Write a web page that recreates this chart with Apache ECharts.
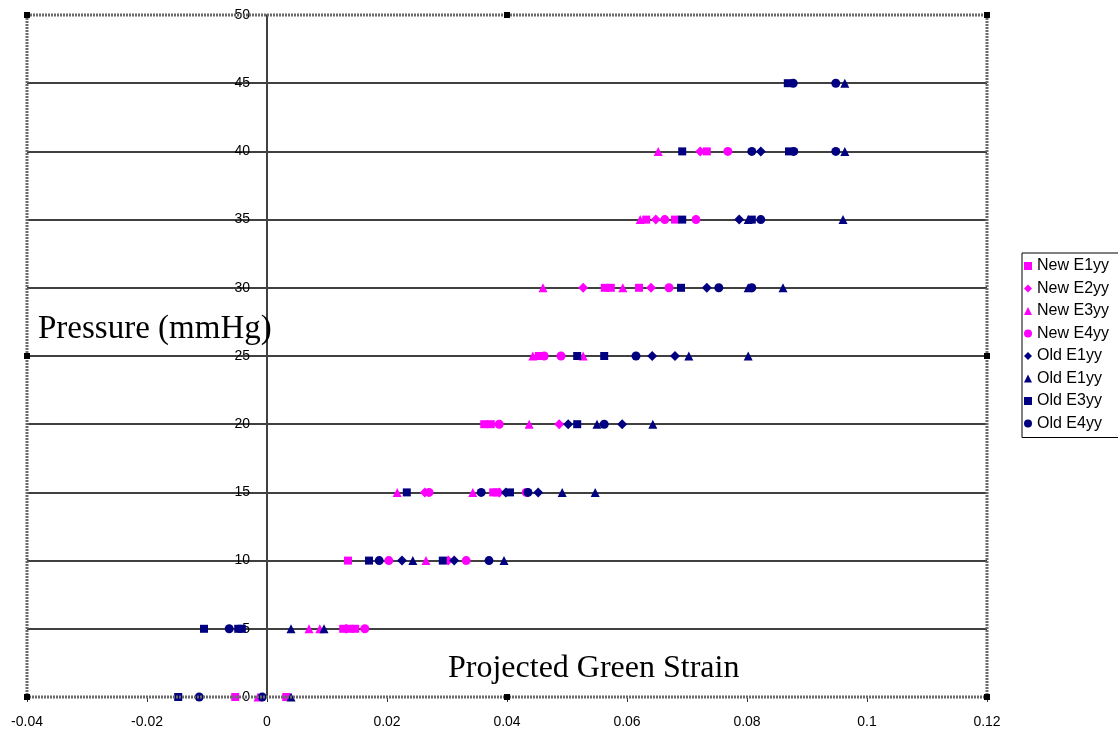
<!DOCTYPE html>
<html>
<head>
<meta charset="utf-8">
<script src="https://cdn.jsdelivr.net/npm/echarts@6/dist/echarts.min.js"></script>
<style>
  html, body { margin: 0; padding: 0; background: #fff; }
  #chart { width: 1118px; height: 736px; }
</style>
</head>
<body>
<div id="chart"></div>
<script>
  // [strain, pressure] pairs
  const newE1yy = [[-0.0053, 0], [0.0032, 0], [0.0127, 5], [0.0138, 5], [0.0147, 5], [0.0135, 10],
    [0.0377, 15], [0.0383, 15], [0.0362, 20], [0.0373, 20], [0.0453, 25],
    [0.0563, 30], [0.0573, 30], [0.0620, 30], [0.0632, 35], [0.0680, 35], [0.0733, 40]]
  const newE2yy = [[0.0132, 5], [0.0302, 10], [0.0263, 15], [0.0387, 15], [0.0487, 20],
    [0.0527, 30], [0.0640, 30], [0.0648, 35], [0.0722, 40]]
  const newE3yy = [[-0.0015, 0], [0.0070, 5], [0.0088, 5], [0.0265, 10], [0.0217, 15], [0.0343, 15],
    [0.0437, 20], [0.0443, 25], [0.0527, 25], [0.0460, 30], [0.0593, 30], [0.0622, 35], [0.0652, 40]]
  const newE4yy = [[0.0163, 5], [0.0203, 10], [0.0332, 10], [0.0270, 15], [0.0432, 15], [0.0387, 20],
    [0.0462, 25], [0.0490, 25], [0.0670, 30], [0.0663, 35], [0.0715, 35], [0.0768, 40]]
  const oldE1yy = [[0.0225, 10], [0.0312, 10], [0.0398, 15], [0.0452, 15], [0.0502, 20], [0.0592, 20],
    [0.0642, 25], [0.0680, 25], [0.0733, 30], [0.0787, 35], [0.0823, 40]]
  const oldE1yyB = [[0.0040, 0], [0.0040, 5], [0.0095, 5], [0.0243, 10], [0.0395, 10], [0.0492, 15],
    [0.0547, 15], [0.0550, 20], [0.0643, 20], [0.0703, 25], [0.0802, 25], [0.0802, 30], [0.0860, 30],
    [0.0802, 35], [0.0960, 35], [0.0963, 40], [0.0963, 45]]
  const oldE3yy = [[-0.0148, 0], [-0.0105, 5], [-0.0048, 5], [-0.0042, 5], [0.0170, 10], [0.0293, 10],
    [0.0233, 15], [0.0405, 15], [0.0517, 20], [0.0517, 25], [0.0562, 25], [0.0690, 30],
    [0.0692, 35], [0.0808, 35], [0.0692, 40], [0.0870, 40], [0.0868, 45]]
  const oldE4yy = [[-0.0113, 0], [-0.0008, 0], [-0.0063, 5], [0.0187, 10], [0.0370, 10], [0.0357, 15],
    [0.0435, 15], [0.0562, 20], [0.0615, 25], [0.0753, 30], [0.0808, 30], [0.0823, 35],
    [0.0808, 40], [0.0878, 40], [0.0948, 40], [0.0877, 45], [0.0948, 45]]

  const seriesNames = ['New E1yy', 'New E2yy', 'New E3yy', 'New E4yy', 'Old E1yy', 'Old E1yy ', 'Old E3yy', 'Old E4yy']
  const xRange = [-0.04, 0.12]
  const yRange = [0, 50]

  const MAGENTA = '#ff00ff'
  const NAVY = '#000080'

  const chart = echarts.init(document.getElementById('chart'))

  function scatter(name, data, symbol, color, size) {
    return {
      name: name,
      type: 'scatter',
      data: data,
      symbol: symbol,
      symbolSize: size,
      itemStyle: { color: color, opacity: 1 },
      z: 2
    }
  }

  chart.setOption({
    animation: false,
    textStyle: { fontFamily: 'Liberation Sans' },
    grid: {
      left: 27, top: 15, width: 960, height: 682,
      outerBoundsMode: 'none',
      show: false
    },
    legend: {
      orient: 'vertical',
      left: 1022,
      top: 253,
      data: seriesNames,
      itemWidth: 8,
      itemHeight: 8,
      itemGap: 6.5,
      padding: [5, 60, 6, 2],
      borderColor: '#000',
      borderWidth: 1,
      textStyle: { fontSize: 16, color: '#000', fontFamily: 'Liberation Sans' }
    },
    xAxis: {
      type: 'value',
      min: xRange[0],
      max: xRange[1],
      interval: 0.02,
      axisLine: { show: false },
      axisTick: { show: true, length: 5, lineStyle: { color: '#333' } },
      axisLabel: { fontSize: 14, color: '#000', margin: 18 },
      splitLine: { show: false }
    },
    yAxis: {
      type: 'value',
      min: yRange[0],
      max: yRange[1],
      interval: 5,
      axisLine: { show: true, onZero: false, lineStyle: { color: '#404040', width: 2 } },
      axisTick: { show: false },
      axisLabel: { fontSize: 14, color: '#000', margin: 17 },
      splitLine: { show: true, showMinLine: false, showMaxLine: false, lineStyle: { color: '#404040', width: 2 } }
    },
    series: [
      scatter(seriesNames[0], newE1yy, 'rect', MAGENTA, 8),
      scatter(seriesNames[1], newE2yy, 'diamond', MAGENTA, 10),
      scatter(seriesNames[2], newE3yy, 'triangle', MAGENTA, 9),
      scatter(seriesNames[3], newE4yy, 'circle', MAGENTA, 9),
      scatter(seriesNames[4], oldE1yy, 'diamond', NAVY, 10),
      scatter(seriesNames[5], oldE1yyB, 'triangle', NAVY, 9),
      scatter(seriesNames[6], oldE3yy, 'rect', NAVY, 8),
      scatter(seriesNames[7], oldE4yy, 'circle', NAVY, 9)
    ]
  })

  // y axis crosses at strain 0; frame and selection handles around the plot
  const p0 = chart.convertToPixel({ gridIndex: 0 }, [xRange[0], yRange[0]])
  const p1 = chart.convertToPixel({ gridIndex: 0 }, [xRange[1], yRange[1]])
  const zeroX = chart.convertToPixel({ gridIndex: 0 }, [0, 0])[0]
  const mx = (p0[0] + p1[0]) / 2
  const my = (p0[1] + p1[1]) / 2
  const handles = [[p0[0], p1[1]], [mx, p1[1]], [p1[0], p1[1]], [p0[0], my], [p1[0], my],
    [p0[0], p0[1]], [mx, p0[1]], [p1[0], p0[1]]]

  const graphics = [
    {
      type: 'rect', z: 50,
      shape: { x: p0[0], y: p1[1], width: p1[0] - p0[0], height: p0[1] - p1[1] },
      style: { fill: null, stroke: '#6a6a6a', lineWidth: 3, lineDash: [2, 1] }
    },
    {
      type: 'text', left: 38, top: 313, z: 60,
      style: { text: 'Pressure (mmHg)', font: '33px "Liberation Serif"', fill: '#000' }
    },
    {
      type: 'text', left: 448, top: 653, z: 60,
      style: { text: 'Projected Green Strain', font: '32px "Liberation Serif"', fill: '#000' }
    }
  ].concat(handles.map(function (h) {
    return {
      type: 'rect', z: 100,
      shape: { x: h[0] - 3, y: h[1] - 3, width: 6, height: 6 },
      style: { fill: '#000' }
    }
  }))

  chart.setOption({
    yAxis: { offset: -(zeroX - p0[0]) },
    graphic: graphics
  })
</script>
</body>
</html>
